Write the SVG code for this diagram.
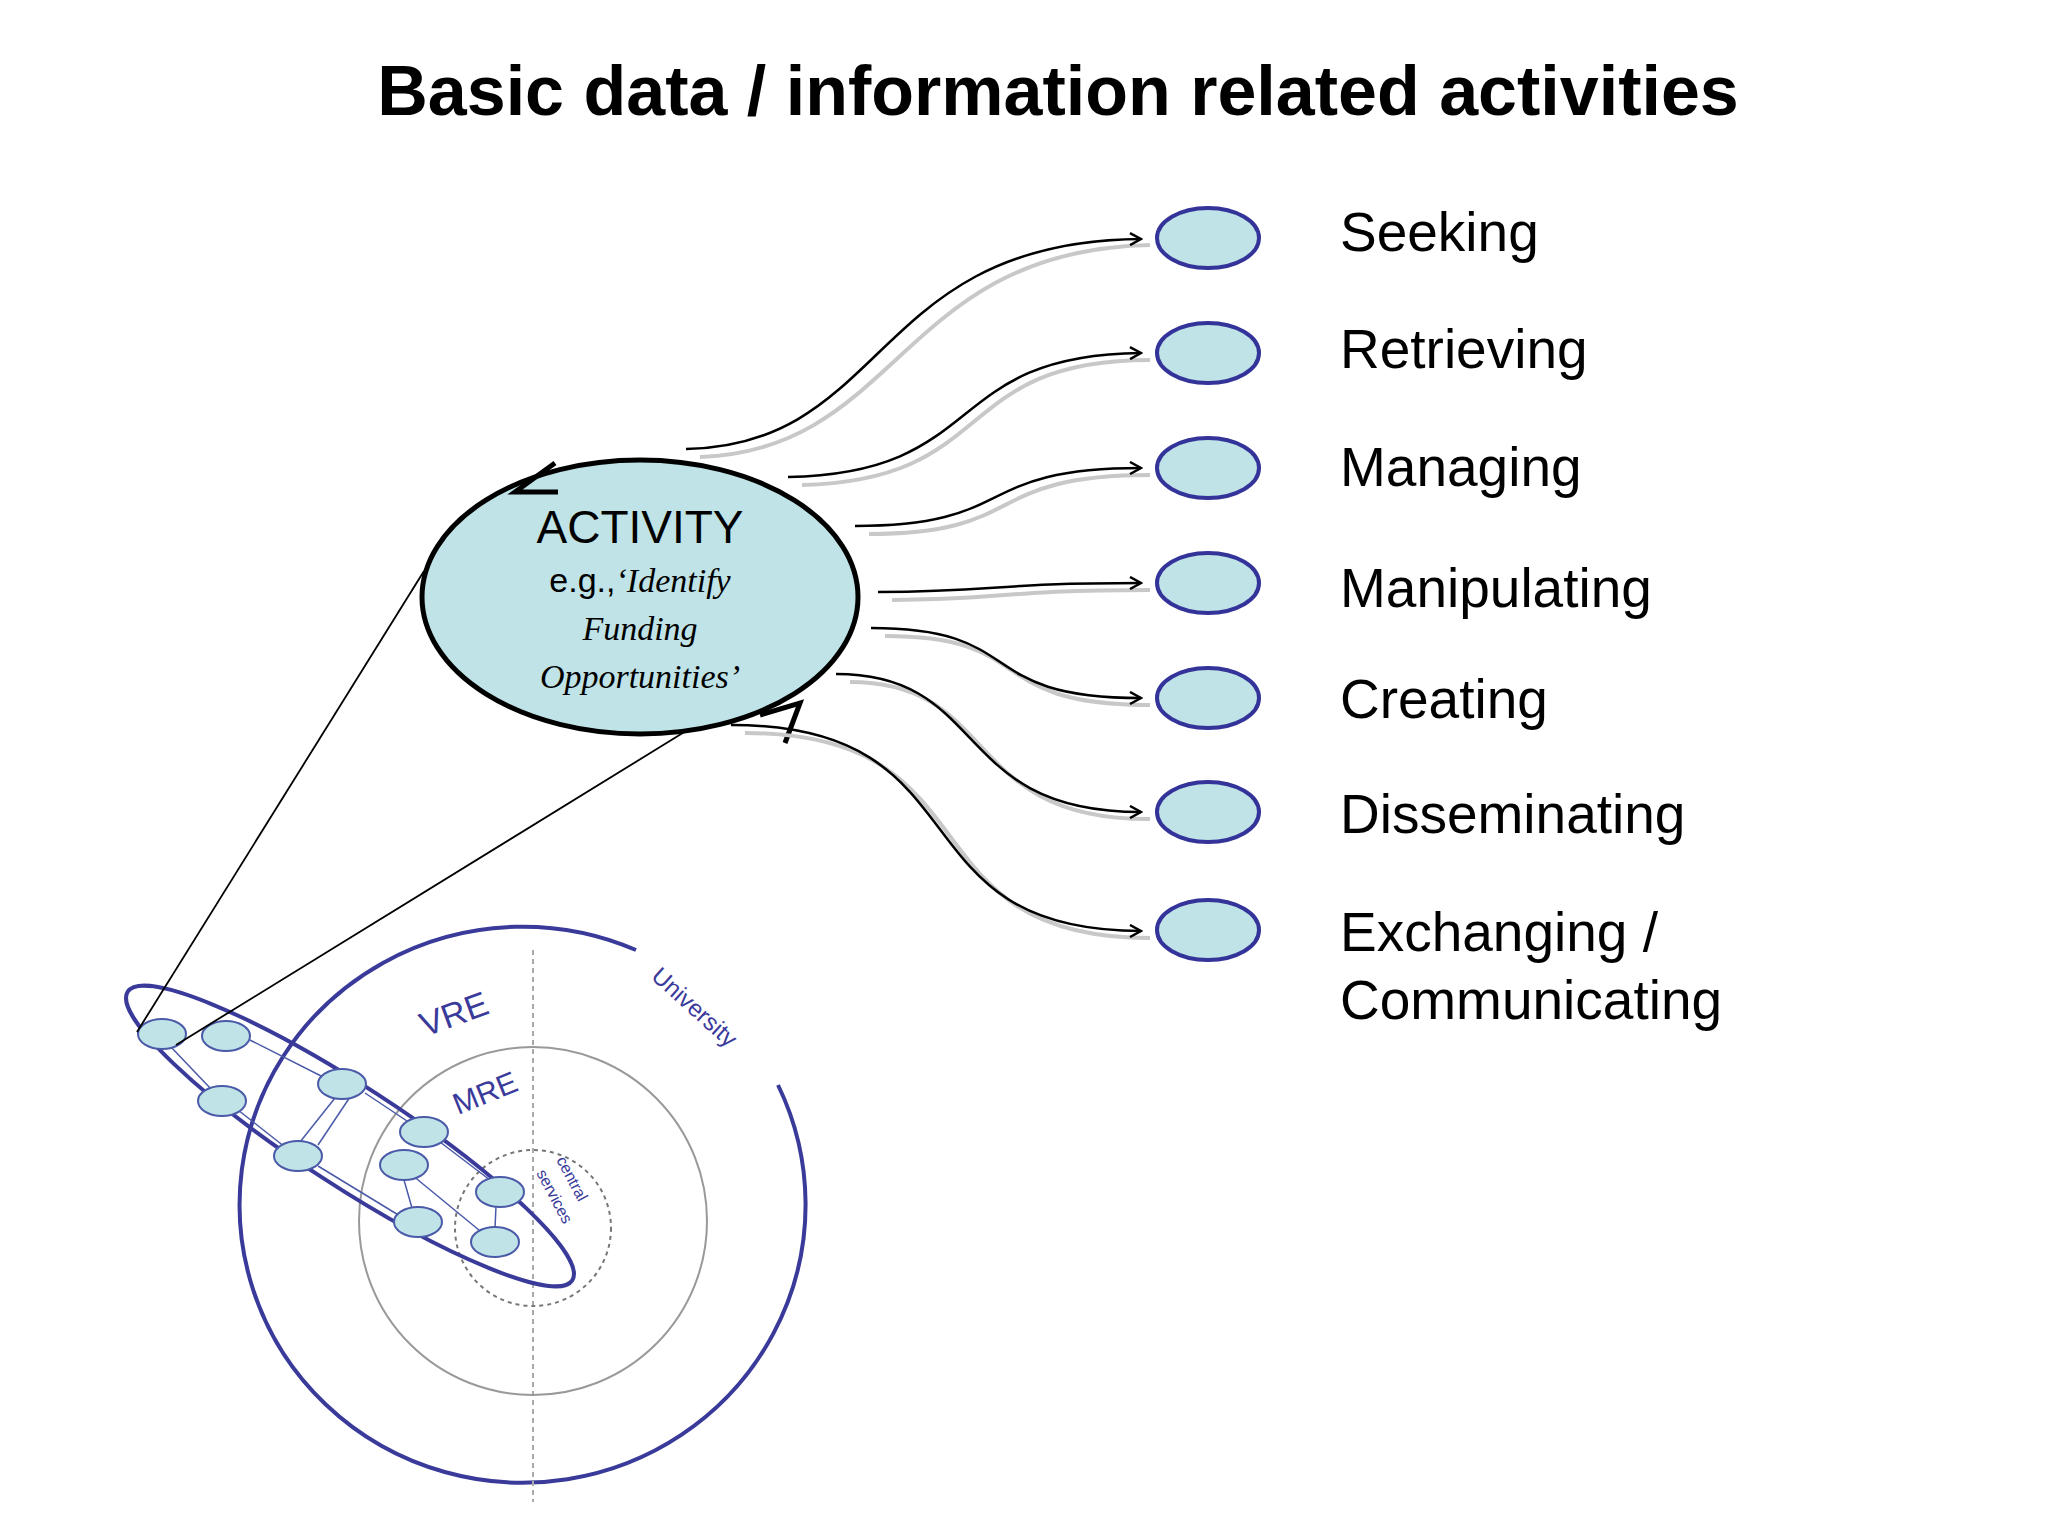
<svg xmlns="http://www.w3.org/2000/svg" width="2048" height="1536" viewBox="0 0 2048 1536">
<style>
.lbl{font-family:"Liberation Sans",Arial,sans-serif;font-size:55px;fill:#000}
.sm{fill:#bfe3e6;stroke:#33339a;stroke-width:4}
.tn{fill:#bfe3e6;stroke:#4a5aa8;stroke-width:2}
.con{fill:none;stroke:#000;stroke-width:2.5}
.sh{fill:none;stroke:#c8c8c8;stroke-width:4}
.blue{fill:none;stroke:#3a3a9a;stroke-width:4}
.bt{font-family:"Liberation Sans",Arial,sans-serif;fill:#3a3a9a}
</style>
<defs>
<marker id="ah" markerWidth="14" markerHeight="14" refX="12" refY="7" orient="auto" markerUnits="userSpaceOnUse"><path d="M1,1 L12,7 L1,13" fill="none" stroke="#000" stroke-width="2.5"/></marker>
</defs>
<rect width="2048" height="1536" fill="#fff"/>
<text x="1058" y="115" text-anchor="middle" font-family="Liberation Sans,Arial,sans-serif" font-weight="bold" font-size="70">Basic data / information related activities</text>

<g id="bottom">
<path class="blue" d="M636,950 A283,278 0 1 0 778,1085" />
<line x1="533" y1="950" x2="533" y2="1502" stroke="#aaa" stroke-width="2" stroke-dasharray="5,4"/>
<circle cx="533" cy="1221" r="174" fill="none" stroke="#999" stroke-width="2"/>
<circle cx="533" cy="1228" r="78" fill="none" stroke="#777" stroke-width="2" stroke-dasharray="4,4"/>
<ellipse class="blue" cx="350" cy="1136" rx="265" ry="50" transform="rotate(33 350 1136)"/>
<g stroke="#4a5aa8" stroke-width="1.5">
<line x1="170" y1="1046" x2="212" y2="1090"/><line x1="238" y1="1110" x2="285" y2="1147"/>
<line x1="250" y1="1040" x2="325" y2="1078"/><line x1="300" y1="1142" x2="335" y2="1098"/>
<line x1="318" y1="1145" x2="350" y2="1097"/><line x1="365" y1="1093" x2="410" y2="1123"/>
<line x1="318" y1="1166" x2="400" y2="1216"/><line x1="404" y1="1180" x2="412" y2="1208"/>
<line x1="412" y1="1175" x2="485" y2="1235"/><line x1="440" y1="1142" x2="490" y2="1180"/>
<line x1="496" y1="1206" x2="495" y2="1228"/>
</g>
<ellipse class="tn" cx="162" cy="1034" rx="24" ry="15"/>
<ellipse class="tn" cx="226" cy="1036" rx="24" ry="15"/>
<ellipse class="tn" cx="222" cy="1101" rx="24" ry="15"/>
<ellipse class="tn" cx="342" cy="1084" rx="24" ry="15"/>
<ellipse class="tn" cx="298" cy="1156" rx="24" ry="15"/>
<ellipse class="tn" cx="424" cy="1132" rx="24" ry="15"/>
<ellipse class="tn" cx="404" cy="1165" rx="24" ry="15"/>
<ellipse class="tn" cx="500" cy="1192" rx="24" ry="15"/>
<ellipse class="tn" cx="418" cy="1222" rx="24" ry="15"/>
<ellipse class="tn" cx="495" cy="1242" rx="24" ry="15"/>
<text class="bt" font-size="34" transform="translate(425,1037) rotate(-20)">VRE</text>
<text class="bt" font-size="30" transform="translate(458,1115) rotate(-22)">MRE</text>
<text class="bt" font-size="24" transform="translate(650,978) rotate(42)">University</text>
<text class="bt" font-size="16" transform="translate(556,1160) rotate(62)">central</text>
<text class="bt" font-size="16" transform="translate(536,1173) rotate(62)">services</text>
</g>

<g id="zoomlines" stroke="#000" stroke-width="1.8">
<line x1="424" y1="571" x2="137" y2="1032"/>
<line x1="686" y1="731" x2="176" y2="1045"/>
</g>

<g id="activity">
<ellipse cx="640" cy="597" rx="218" ry="137" fill="#bfe3e6" stroke="#000" stroke-width="5"/>
<path d="M555,463 L515,492 L558,492" fill="none" stroke="#000" stroke-width="5"/>
<path d="M760,715 L800,703 L785,743" fill="none" stroke="#000" stroke-width="5"/>
<text x="640" y="543" text-anchor="middle" font-family="Liberation Sans,Arial,sans-serif" font-size="46">ACTIVITY</text>
<text x="640" y="592" text-anchor="middle" font-size="34"><tspan font-family="Liberation Sans,Arial,sans-serif">e.g.,</tspan><tspan font-family="Liberation Serif,serif" font-style="italic">‘Identify</tspan></text>
<text x="640" y="640" text-anchor="middle" font-family="Liberation Serif,serif" font-style="italic" font-size="34">Funding</text>
<text x="640" y="688" text-anchor="middle" font-family="Liberation Serif,serif" font-style="italic" font-size="34">Opportunities’</text>
</g>

<g id="connectors">
<path class="sh" d="M700,457 C900,450 900,250 1150,245"/>
<path class="sh" d="M802,485 C1000,480 950,360 1150,360"/>
<path class="sh" d="M869,534 C1030,534 980,475 1150,475"/>
<path class="sh" d="M892,600 C1000,600 1000,590 1150,590"/>
<path class="sh" d="M885,636 C1040,636 980,705 1150,705"/>
<path class="sh" d="M850,682 C1000,682 960,820 1150,819"/>
<path class="sh" d="M745,733 C1000,733 900,938 1150,938"/>
<path class="con" marker-end="url(#ah)" d="M686,449 C890,445 870,241 1141,239"/>
<path class="con" marker-end="url(#ah)" d="M788,477 C990,473 940,355 1141,353"/>
<path class="con" marker-end="url(#ah)" d="M855,526 C1020,526 970,468 1141,468"/>
<path class="con" marker-end="url(#ah)" d="M878,592 C1000,592 990,583 1141,583"/>
<path class="con" marker-end="url(#ah)" d="M871,628 C1030,628 970,698 1141,698"/>
<path class="con" marker-end="url(#ah)" d="M836,674 C990,674 950,812 1141,812"/>
<path class="con" marker-end="url(#ah)" d="M731,725 C990,725 890,931 1141,931"/>
</g>

<g id="n1"><ellipse class="sm" cx="1208" cy="238" rx="51" ry="30"/><text class="lbl" x="1340" y="251">Seeking</text></g>
<g id="n2"><ellipse class="sm" cx="1208" cy="353" rx="51" ry="30"/><text class="lbl" x="1340" y="368">Retrieving</text></g>
<g id="n3"><ellipse class="sm" cx="1208" cy="468" rx="51" ry="30"/><text class="lbl" x="1340" y="486">Managing</text></g>
<g id="n4"><ellipse class="sm" cx="1208" cy="583" rx="51" ry="30"/><text class="lbl" x="1340" y="607">Manipulating</text></g>
<g id="n5"><ellipse class="sm" cx="1208" cy="698" rx="51" ry="30"/><text class="lbl" x="1340" y="718">Creating</text></g>
<g id="n6"><ellipse class="sm" cx="1208" cy="812" rx="51" ry="30"/><text class="lbl" x="1340" y="833">Disseminating</text></g>
<g id="n7"><ellipse class="sm" cx="1208" cy="930" rx="51" ry="30"/><text class="lbl" x="1340" y="951">Exchanging /</text><text class="lbl" x="1340" y="1019">Communicating</text></g>
</svg>
